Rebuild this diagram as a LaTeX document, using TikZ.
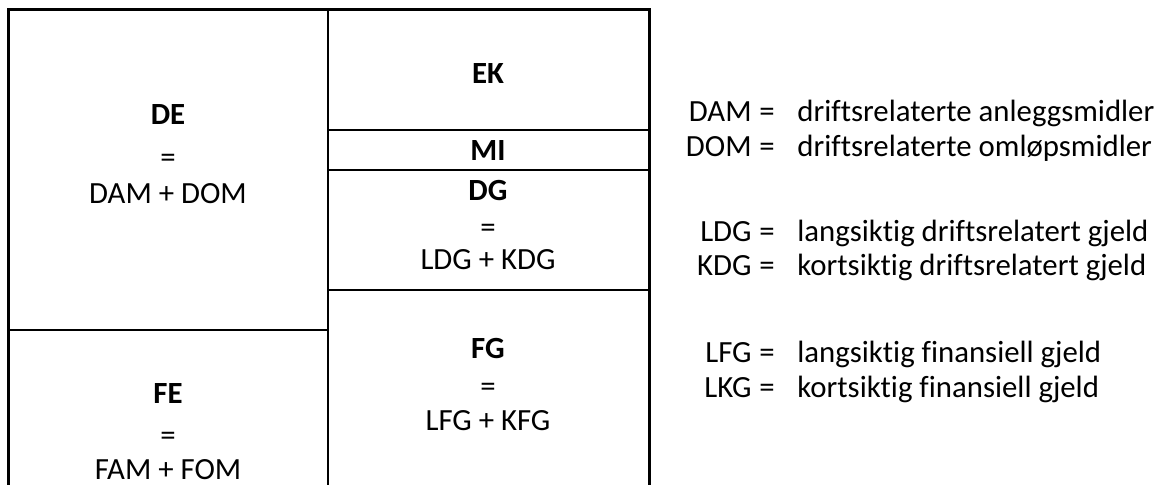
\documentclass[tikz,border=0pt]{standalone}
\usepackage{fontspec}
\setmainfont{Carlito}[RawFeature={-liga}]
\begin{document}
\begin{tikzpicture}[x=0.5pt,y=-0.5pt,
  frame/.style={line width=1.5pt},
  divider/.style={line width=1.3pt},
  rule/.style={line width=1pt},
  txt/.style={anchor=base,inner sep=0pt,font=\fontsize{15.4}{18}\selectfont},
  head/.style={txt,font=\fontsize{15.4}{18}\selectfont\bfseries},
  abbr/.style={txt,anchor=base east},
  eq/.style={txt},
  desc/.style={txt,anchor=base west}]

\clip (0,0) rectangle (1160,485);
\fill[white] (0,0) rectangle (1160,485);

% balance frame (open at the bottom)
\draw[frame] (8,520) -- (8,10) -- (649,10) -- (649,520);
\draw[divider] (328,10) -- (328,520);
% left column: DE / FE
\draw[rule] (8,330) -- (328,330);
% right column: EK / MI / DG / FG
\draw[rule] (328,130) -- (649,130);
\draw[rule] (328,170) -- (649,170);
\draw[rule] (328,290) -- (649,290);

% left column
\node[head] (de)    at (168,125) {DE};
\node[txt]  (deeq)  at (168,168) {=};
\node[txt]  (desum) at (168,204) {DAM + DOM};
\node[head] (fe)    at (168,404) {FE};
\node[txt]  (feeq)  at (168,445) {=};
\node[txt]  (fesum) at (168,480) {FAM + FOM};

% right column
\node[head] (ek)    at (488,84)  {EK};
\node[head] (mi)    at (488,161) {MI};
\node[head] (dg)    at (488,201) {DG};
\node[txt]  (dgeq)  at (488,238) {=};
\node[txt]  (dgsum) at (488,270) {LDG + KDG};
\node[head] (fg)    at (488,359) {FG};
\node[txt]  (fgeq)  at (488,397) {=};
\node[txt]  (fgsum) at (488,430) {LFG + KFG};

% legend
\foreach \ab/\de/\y [count=\i] in {
    DAM/driftsrelaterte anleggsmidler/122,
    DOM/driftsrelaterte omløpsmidler/157,
    LDG/langsiktig driftsrelatert gjeld/242,
    KDG/kortsiktig driftsrelatert gjeld/276,
    LFG/langsiktig finansiell gjeld/363,
    LKG/kortsiktig finansiell gjeld/398} {
  \node[abbr] (ab\i) at (752,\y) {\ab};
  \node[eq]   (eq\i) at (767,\y) {=};
  \node[desc] (ds\i) at (797,\y) {\de};
}
\end{tikzpicture}
\end{document}
